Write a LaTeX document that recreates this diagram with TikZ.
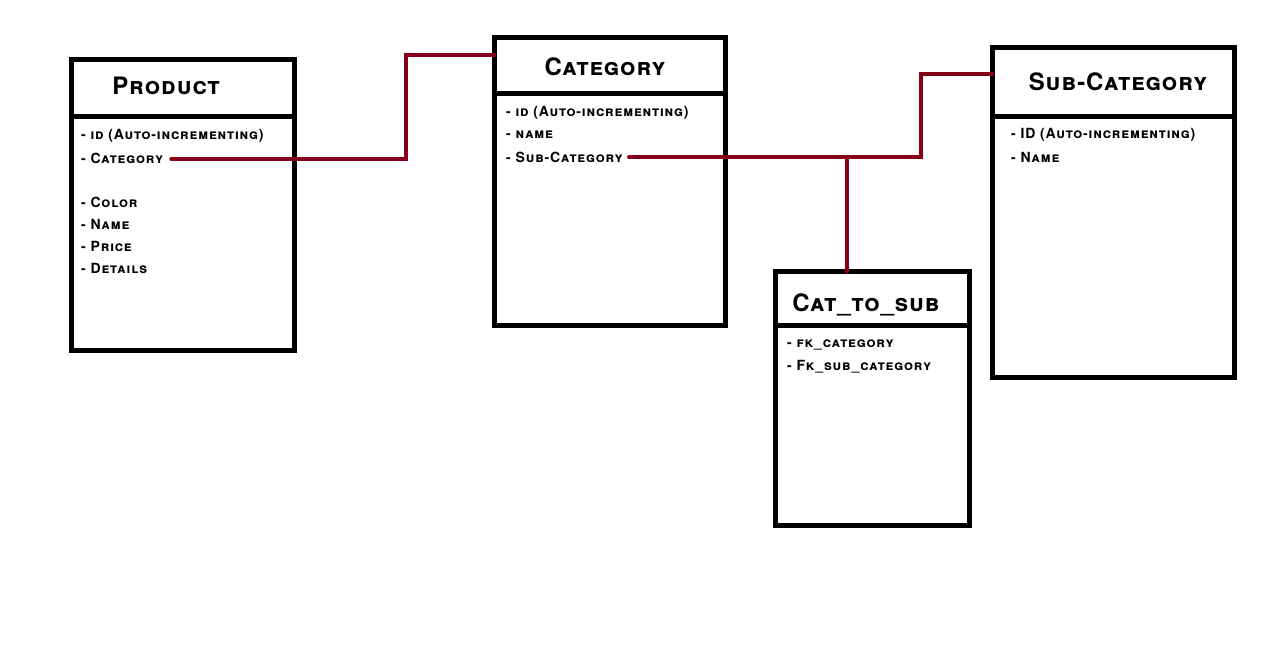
\documentclass[tikz,border=0pt]{standalone}
\usepackage{fontspec}
\setmainfont{TeX Gyre Heros}
\usetikzlibrary{calc}
\definecolor{rel}{RGB}{134,0,25}
\tikzset{
  tbl/.style={draw=black, line width=5pt, fill=none, inner sep=0pt, outer sep=0pt, anchor=north west},
  ttl/.style={font=\fontsize{24}{28}\selectfont\bfseries\scshape\addfontfeature{LetterSpace=4}, inner sep=0pt},
  itm/.style={font=\fontsize{14}{16}\selectfont\bfseries\scshape\addfontfeature{LetterSpace=6}, anchor=west, inner sep=0pt},
  link/.style={draw=rel, line width=4pt, line cap=round, line join=miter}
}
\begin{document}
\begin{tikzpicture}[x=1pt,y=-1pt]
\useasboundingbox[fill=white] (0,0) rectangle (1275,669);
% Product
\node[tbl, minimum width=223pt, minimum height=57pt] (prodHead) at (71.5,59.5) {};
\node[tbl, minimum width=223pt, minimum height=234pt] (prodBody) at (71.5,116.5) {};
\node[ttl] (prodTitle) at (166,86) {Product};
\node[itm] (pid) at (81,136) {- id (Auto-incrementing)};
\node[itm] (pcat) at (81,158) {- Category};
\node[itm] (pcol) at (81,202) {- Color};
\node[itm] (pname) at (81,224) {- Name};
\node[itm] (pprice) at (81,246) {- Price};
\node[itm] (pdet) at (81,268) {- Details};
% Category
\node[tbl, minimum width=231pt, minimum height=56pt] (catHead) at (494.5,37.5) {};
\node[tbl, minimum width=231pt, minimum height=232pt] (catBody) at (494.5,93.5) {};
\node[ttl] (catTitle) at (605,67) {Category};
\node[itm] (cid) at (506,113) {- id (Auto-incrementing)};
\node[itm] (cname) at (506,135) {- name};
\node[itm] (csub) at (506,157) {- Sub-Category};
% Cat_to_sub
\node[tbl, minimum width=194pt, minimum height=54pt] (ctsHead) at (775.5,271.5) {};
\node[tbl, minimum width=194pt, minimum height=200pt] (ctsBody) at (775.5,325.5) {};
\node[ttl] (ctsTitle) at (866,305) {Cat\_to\_sub};
\node[itm] (fk1) at (787,345) {- fk\_category};
\node[itm] (fk2) at (787,367) {- Fk\_sub\_category};
% Sub-Category
\node[tbl, minimum width=242pt, minimum height=69pt] (subHead) at (992.5,47.5) {};
\node[tbl, minimum width=242pt, minimum height=261pt] (subBody) at (992.5,116.5) {};
\node[ttl] (subTitle) at (1118,82) {Sub-Category};
\node[itm] (sid) at (1011,135) {- ID (Auto-incrementing)};
\node[itm] (sname) at (1011,157) {- Name};
% connectors
\coordinate (j1) at (406,55);
\coordinate (j2) at (921,74);
\coordinate (j3) at (847,157);
\draw[link] ($(pcat.east)+(8,1)$) -| (j1) -- (catHead.west |- j1);
\draw[link] ($(csub.east)+(6,0)$) -| (j2) -- (subHead.west |- j2);
\draw[link] (j3) -- (ctsHead.north -| j3);
\end{tikzpicture}
\end{document}
